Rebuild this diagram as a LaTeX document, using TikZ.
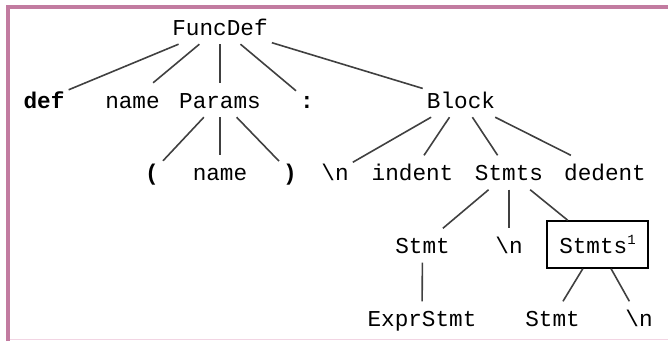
\documentclass[tikz,border=0pt]{standalone}
\usepackage{fontspec}
\setmonofont{Liberation Mono}
\definecolor{mauve}{HTML}{C27BA0}
\definecolor{palepink}{HTML}{F2D4E3}
\definecolor{edgegray}{HTML}{404040}
\newcommand{\supone}{\raisebox{8.5pt}{\fontsize{14}{14}\selectfont 1}}
\begin{document}
\begin{tikzpicture}[x=1pt,y=-1pt,
  tok/.style={anchor=base,font=\ttfamily\fontsize{22.7}{27}\selectfont,
    text height=20pt,text depth=4pt,inner xsep=4pt,inner ysep=5pt},
  boxed/.style={draw,line width=1.5pt,font=\ttfamily\fontsize{22.7}{27}\selectfont,
    minimum width=101pt,minimum height=47pt,inner sep=0pt},
  edge/.style={draw=edgegray,line width=1.6pt}]
\useasboundingbox (0,0) rectangle (668,341);
% frame
\draw[mauve,line width=3.5pt] (8,341) -- (8,6.75) -- (668,6.75);
\draw[palepink,line width=1.2pt] (10,339.5) -- (668,339.5);
% nodes
\node[tok] (FD) at (220,35) {FuncDef};
\node[tok] (def) at (44,108) {\textbf{def}};
\node[tok] (nmA) at (132.5,108) {name};
\node[tok] (Pa) at (220,108) {Params};
\node[tok] (col) at (307,108) {\textbf{:}};
\node[tok] (Bl) at (461,108) {Block};
\node[tok] (lp) at (152,180.5) {\textbf{(}};
\node[tok] (nmB) at (220,180.5) {name};
\node[tok] (rp) at (290,180.5) {\textbf{)}};
\node[tok] (nlA) at (335,180.5) {\textbackslash n};
\node[tok] (ind) at (412.5,180.5) {indent};
\node[tok] (St) at (509,180.5) {Stmts};
\node[tok] (ded) at (605,180.5) {dedent};
\node[tok] (StmA) at (422.5,253.5) {Stmt};
\node[tok] (nlB) at (509,253.5) {\textbackslash n};
\node[boxed] (StB) at (597.5,244.5) {Stmts\supone};
\node[tok] (Ex) at (422,326.5) {ExprStmt};
\node[tok] (StmB) at (552.5,326.5) {Stmt};
\node[tok] (nlC) at (639,326.5) {\textbackslash n};
% edges
\draw[edge] (FD) -- (def);
\draw[edge] (FD) -- (nmA);
\draw[edge] (FD) -- (Pa);
\draw[edge] (FD) -- (col);
\draw[edge] (FD) -- (Bl);
\draw[edge] (Pa) -- (lp);
\draw[edge] (Pa) -- (nmB);
\draw[edge] (Pa) -- (rp);
\draw[edge] (Bl) -- (nlA);
\draw[edge] (Bl) -- (ind);
\draw[edge] (Bl) -- (St);
\draw[edge] (Bl) -- (ded);
\draw[edge] (St) -- (StmA);
\draw[edge] (St) -- (nlB);
\draw[edge] (St) -- (StB);
\draw[edge] (StmA) -- (Ex);
\draw[edge] (StB) -- (StmB);
\draw[edge] (StB) -- (nlC);
\end{tikzpicture}
\end{document}
